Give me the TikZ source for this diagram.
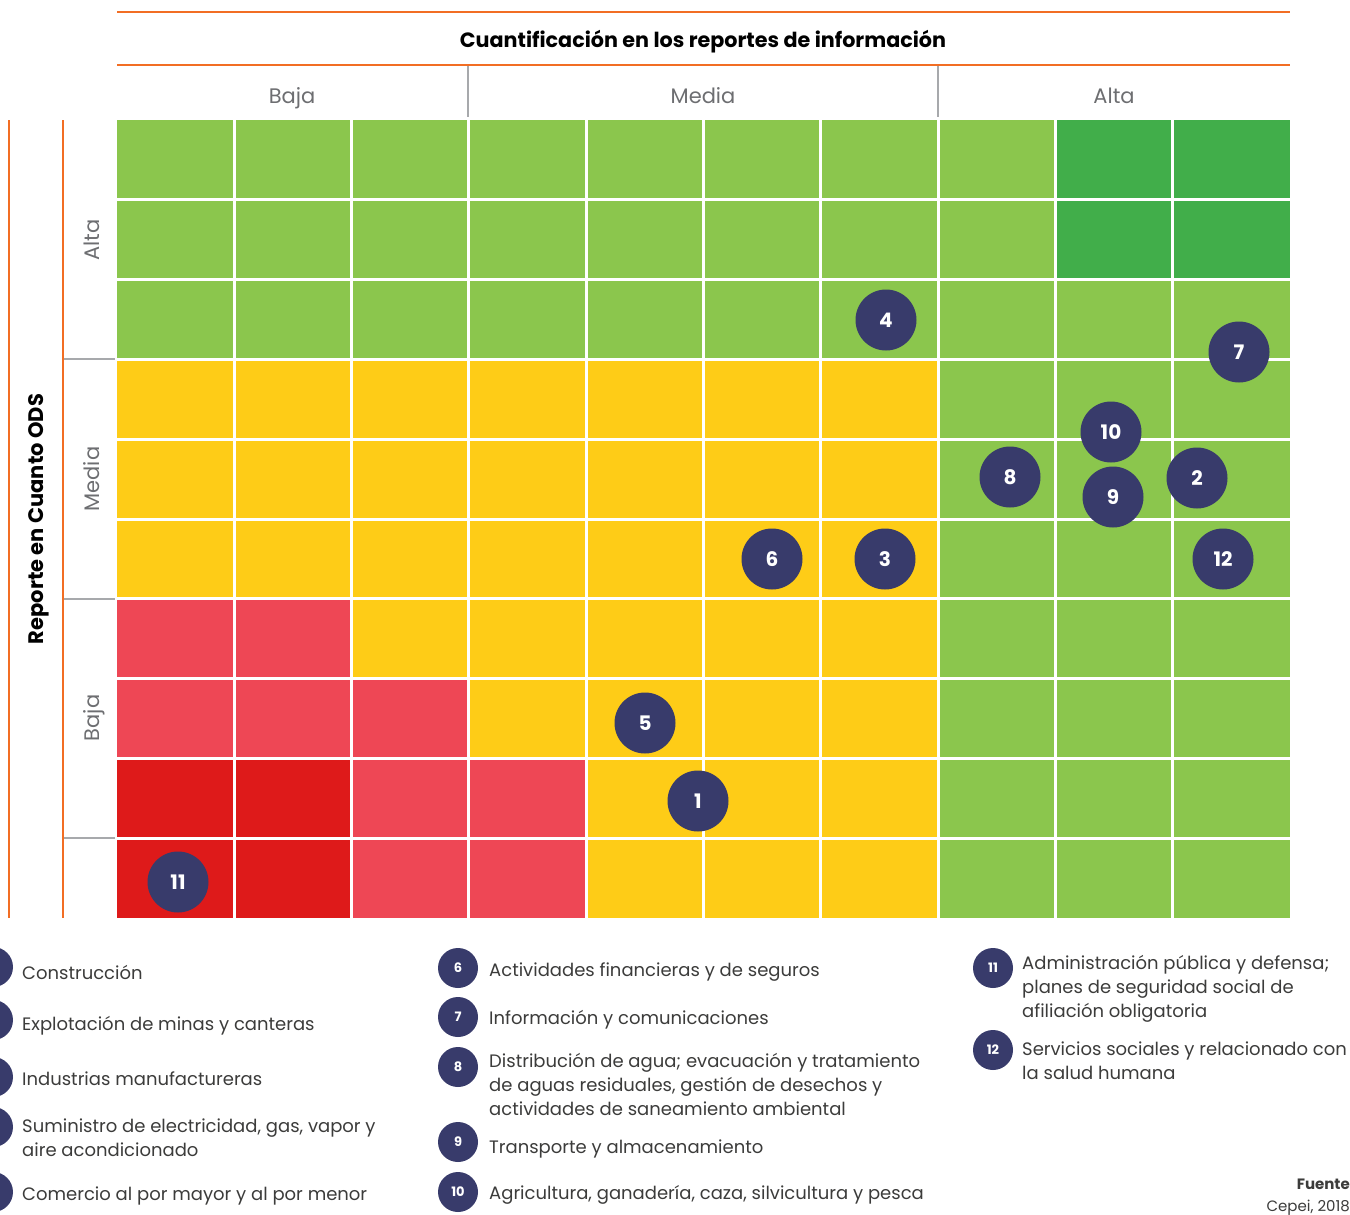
\documentclass[tikz,border=0pt]{standalone}
\usepackage{fontspec}
\setmainfont{Poppins}
\definecolor{lg}{HTML}{8BC64D}
\definecolor{dg}{HTML}{41AE4A}
\definecolor{yl}{HTML}{FECC17}
\definecolor{pk}{HTML}{EE4755}
\definecolor{rd}{HTML}{DE1A1A}
\definecolor{nv}{HTML}{383B6B}
\definecolor{orl}{HTML}{F26E24}
\definecolor{gl}{HTML}{A7A9AC}
\definecolor{gt}{HTML}{6D6E71}
\definecolor{lt}{HTML}{3C3C3B}
\begin{document}
\begin{tikzpicture}[x=1pt,y=-1pt,
  dot/.style={circle,fill=nv,minimum size=61pt,inner sep=0pt,text=white,font=\fontsize{20}{20}\selectfont\bfseries},
  ldot/.style={circle,fill=nv,minimum size=40pt,inner sep=0pt,text=white,font=\fontsize{13}{13}\selectfont\bfseries},
  ltxt/.style={anchor=west,inner sep=0pt,text=lt,align=left,font=\fontsize{18}{24}\selectfont},
  hdr/.style={text=gt,font=\fontsize{21}{21}\selectfont},
  orline/.style={draw=orl,line width=2.5pt},
  gline/.style={draw=gl,line width=2pt}]
\clip (0,0) rectangle (1350,1215);
\fill[white] (0,0) rectangle (1350,1215);
% grid cells
\begin{scope}[shift={(117,120)},x=117.3pt,y=-79.8pt]
  \fill[lg] (0,0) rectangle (10,10);
  \fill[dg] (8,0) rectangle (10,2);
  \fill[yl] (0,3) rectangle (7,10);
  \fill[pk] (0,6) rectangle (2,7);
  \fill[pk] (0,7) rectangle (3,8);
  \fill[pk] (2,8) rectangle (4,10);
  \fill[rd] (0,8) rectangle (2,10);
  \foreach \i in {1,...,9} {
    \draw[white,line width=3pt] (\i,0) -- (\i,10);
    \draw[white,line width=3pt] (0,\i) -- (10,\i);
  }
\end{scope}
% top header
\draw[orline] (117,12) -- (1290,12);
\draw[orline] (117,65) -- (1290,65);
\node[font=\fontsize{20.7}{20.7}\selectfont\bfseries,text=black] (title) at (703,42) {Cuantificación en los reportes de información};
\draw[gline] (468,66) -- (468,117);
\draw[gline] (938,66) -- (938,117);
\node[hdr,anchor=base] (hb) at (292,103) {Baja};
\node[hdr,anchor=base] (hm) at (703,103) {Media};
\node[hdr,anchor=base] (ha) at (1114,103) {Alta};
% left header
\draw[orline] (9,120) -- (9,918);
\draw[orline] (63,120) -- (63,918);
\draw[draw=gl,line width=1.5pt] (64,359) -- (115,359);
\draw[draw=gl,line width=1.5pt] (64,599) -- (115,599);
\draw[draw=gl,line width=1.5pt] (64,838) -- (115,838);
\node[hdr,rotate=90,anchor=base] (va) at (99,240) {Alta};
\node[hdr,rotate=90,anchor=base] (vm) at (99,479) {Media};
\node[hdr,rotate=90,anchor=base] (vb) at (99,718) {Baja};
\node[rotate=90,font=\fontsize{21}{21}\selectfont\bfseries,text=black] (vt) at (39,519) {Reporte en Cuanto ODS};
% plotted points
\node[dot] (c4) at (886,320) {4};
\node[dot] (c7) at (1239,352) {7};
\node[dot] (c10) at (1111,432) {10};
\node[dot] (c8) at (1010,477) {8};
\node[dot] (c9) at (1113,497) {9};
\node[dot] (c2) at (1197,478) {2};
\node[dot] (c12) at (1223,559) {12};
\node[dot] (c6) at (772,559) {6};
\node[dot] (c3) at (885,559) {3};
\node[dot] (c5) at (645,723) {5};
\node[dot] (c1) at (698,801) {1};
\node[dot] (c11) at (178,882) {11};
% legend left column (circles cut by the page edge)
\node[ldot] (l1) at (-7,967) {};
\node[ldot] (l2) at (-7,1020) {};
\node[ldot] (l3) at (-7,1077) {};
\node[ldot] (l4) at (-7,1127) {};
\node[ldot] (l5) at (-7,1192) {};
\node[ltxt] (t1) at (22,972) {Construcción};
\node[ltxt] (t2) at (22,1026) {Explotación de minas y canteras};
\node[ltxt] (t3) at (22,1079) {Industrias manufactureras};
\node[ltxt] (t4) at (22,1138) {Suministro de electricidad, gas, vapor y\\aire acondicionado};
\node[ltxt] (t5) at (22,1196) {Comercio al por mayor y al por menor};
% legend middle column
\node[ldot] (l6) at (458,968) {6};
\node[ldot] (l7) at (458,1017) {7};
\node[ldot] (l8) at (458,1067) {8};
\node[ldot] (l9) at (458,1142) {9};
\node[ldot] (l10) at (458,1192) {10};
\node[ltxt] (t6) at (489,972) {Actividades financieras y de seguros};
\node[ltxt] (t7) at (489,1020) {Información y comunicaciones};
\node[ltxt] (t8) at (489,1084) {Distribución de agua; evacuación y tratamiento\\de aguas residuales, gestión de desechos y\\actividades de saneamiento ambiental};
\node[ltxt] (t9) at (489,1149) {Transporte y almacenamiento};
\node[ltxt] (t10) at (489,1195) {Agricultura, ganadería, caza, silvicultura y pesca};
% legend right column
\node[ldot] (l11) at (993,968) {11};
\node[ldot] (l12) at (993,1050) {12};
\node[ltxt] (t11) at (1022,989) {Administración pública y defensa;\\planes de seguridad social de\\afiliación obligatoria};
\node[ltxt] (t12) at (1022,1061) {Servicios sociales y relacionado con\\la salud humana};
% source
\node[anchor=east,inner sep=0pt,text=lt,font=\fontsize{15}{15}\selectfont\bfseries] (src) at (1350,1184) {Fuente};
\node[anchor=east,inner sep=0pt,text=lt,font=\fontsize{15}{15}\selectfont] (srcy) at (1350,1208) {Cepei, 2018};
\end{tikzpicture}
\end{document}
